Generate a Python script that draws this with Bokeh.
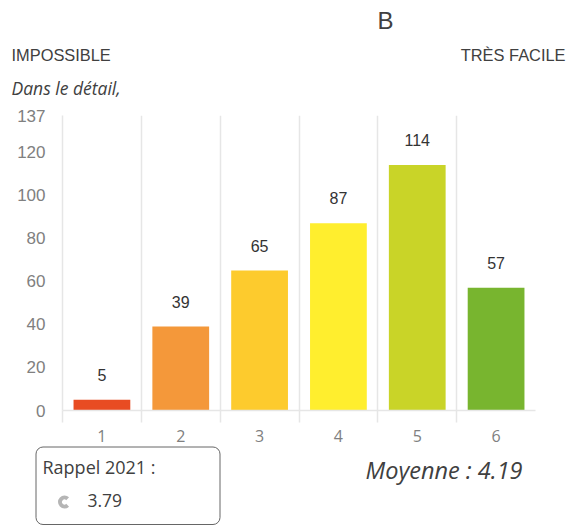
from bokeh.plotting import figure
from bokeh.layouts import column
from bokeh.models import ColumnDataSource, FixedTicker, BoxAnnotation, Range1d
from bokeh.core.properties import value
from bokeh.embed import file_html
from bokeh.resources import INLINE

categories = [1, 2, 3, 4, 5, 6]
counts = [5, 39, 65, 87, 114, 57]
colors = ["#E84C22", "#F4983A", "#FDCB2D", "#FFEE2E", "#C9D428", "#78B52F"]
y_ticks = [0, 20, 40, 60, 80, 100, 120, 137]
boundaries = [1.5, 2.5, 3.5, 4.5, 5.5]
minor = [0.5, 1.5, 2.5, 3.5, 4.5, 5.5]
recall_value = 3.79
mean_value = 4.19

W = 572
TOP_H, CHART_H, BOTTOM_H = 100, 345, 80


def strip(height, y0):
    f = figure(width=W, height=height, output_backend="svg", toolbar_location=None,
               x_range=Range1d(0, W), y_range=Range1d(y0 + height, y0),
               min_border_left=0, min_border_right=0, min_border_top=0, min_border_bottom=0,
               outline_line_color=None, frame_align=False)
    f.axis.visible = False
    f.grid.visible = False
    return f


def txt(f, text, x, y, size, font="Liberation Sans", style="normal", align="left"):
    f.text(x=[x], y=[y], text=[text], text_font=value(font), text_font_size=value(size),
           text_font_style=style, text_color="#404040", text_align=align,
           text_baseline="alphabetic")


top = strip(TOP_H, 0)
txt(top, "B", 377, 20, "24px")
txt(top, "IMPOSSIBLE", 11, 54, "16.4px")
txt(top, "TRÈS FACILE", 565, 54, "16.4px", align="right")
txt(top, "Dans le détail,", 11, 87, "17.5px", font="Open Sans", style="italic")

p = figure(width=W, height=CHART_H, output_backend="svg", toolbar_location=None,
           x_range=Range1d(0.5, 6.5), y_range=Range1d(0, 137),
           min_border_left=62, min_border_right=37, min_border_top=15, min_border_bottom=35,
           outline_line_color=None, background_fill_color="white", frame_align=False)

p.ygrid.visible = False
p.xgrid.ticker = FixedTicker(ticks=boundaries)
p.xgrid.grid_line_color = "#E6E6E6"
p.xgrid.grid_line_width = 1.5

src = ColumnDataSource(dict(x=categories, top=counts, color=colors,
                            label=[str(v) for v in counts]))
p.vbar(x="x", top="top", bottom=0, width=0.72, fill_color="color", line_color=None, source=src)
p.text(x="x", y="top", text="label", source=src, text_align="center", text_baseline="alphabetic",
       text_font_size="16px", text_color="#333333", text_font=value("Liberation Sans"), y_offset=-25)

ax = p.xaxis[0]
ax.ticker = FixedTicker(ticks=categories, minor_ticks=minor)
ax.axis_line_color = "#E6E6E6"
ax.axis_line_width = 1.5
ax.major_tick_line_color = None
ax.minor_tick_line_color = "#E6E6E6"
ax.minor_tick_line_width = 1.5
ax.minor_tick_in = 0
ax.minor_tick_out = 12
ax.major_tick_in = 0
ax.major_tick_out = 0
ax.major_label_standoff = 7
ax.major_label_text_font = "Open Sans"
ax.major_label_text_font_size = "16px"
ax.major_label_text_color = "#808080"

ay = p.yaxis[0]
ay.ticker = FixedTicker(ticks=y_ticks)
ay.axis_line_color = "#E6E6E6"
ay.axis_line_width = 1.5
ay.major_tick_line_color = None
ay.minor_tick_line_color = None
ay.major_label_standoff = 11
ay.major_label_text_font = "Liberation Sans"
ay.major_label_text_font_size = "17px"
ay.major_label_text_color = "#808080"

bottom = strip(BOTTOM_H, 445)
bottom.add_layout(BoxAnnotation(left=35.5, right=219.5, top=446.5, bottom=524,
                                fill_alpha=0, line_color="#666666", line_alpha=1,
                                line_width=1, border_radius=7))
txt(bottom, "Rappel 2021 :", 42, 466, "18px", font="Open Sans")
txt(bottom, str(recall_value), 87, 500, "17.5px", font="Open Sans")
txt(bottom, "Moyenne : " + str(mean_value), 365, 469, "23.5px", font="Open Sans", style="italic")
bottom.annular_wedge(x=[64], y=[501.5], inner_radius=2.5, outer_radius=6.5,
                     start_angle=0.8, end_angle=-0.8, direction="anticlock",
                     fill_color="#B5B5B5", line_color=None)

open("out.html", "w").write(file_html(column(top, p, bottom, spacing=0), INLINE))
